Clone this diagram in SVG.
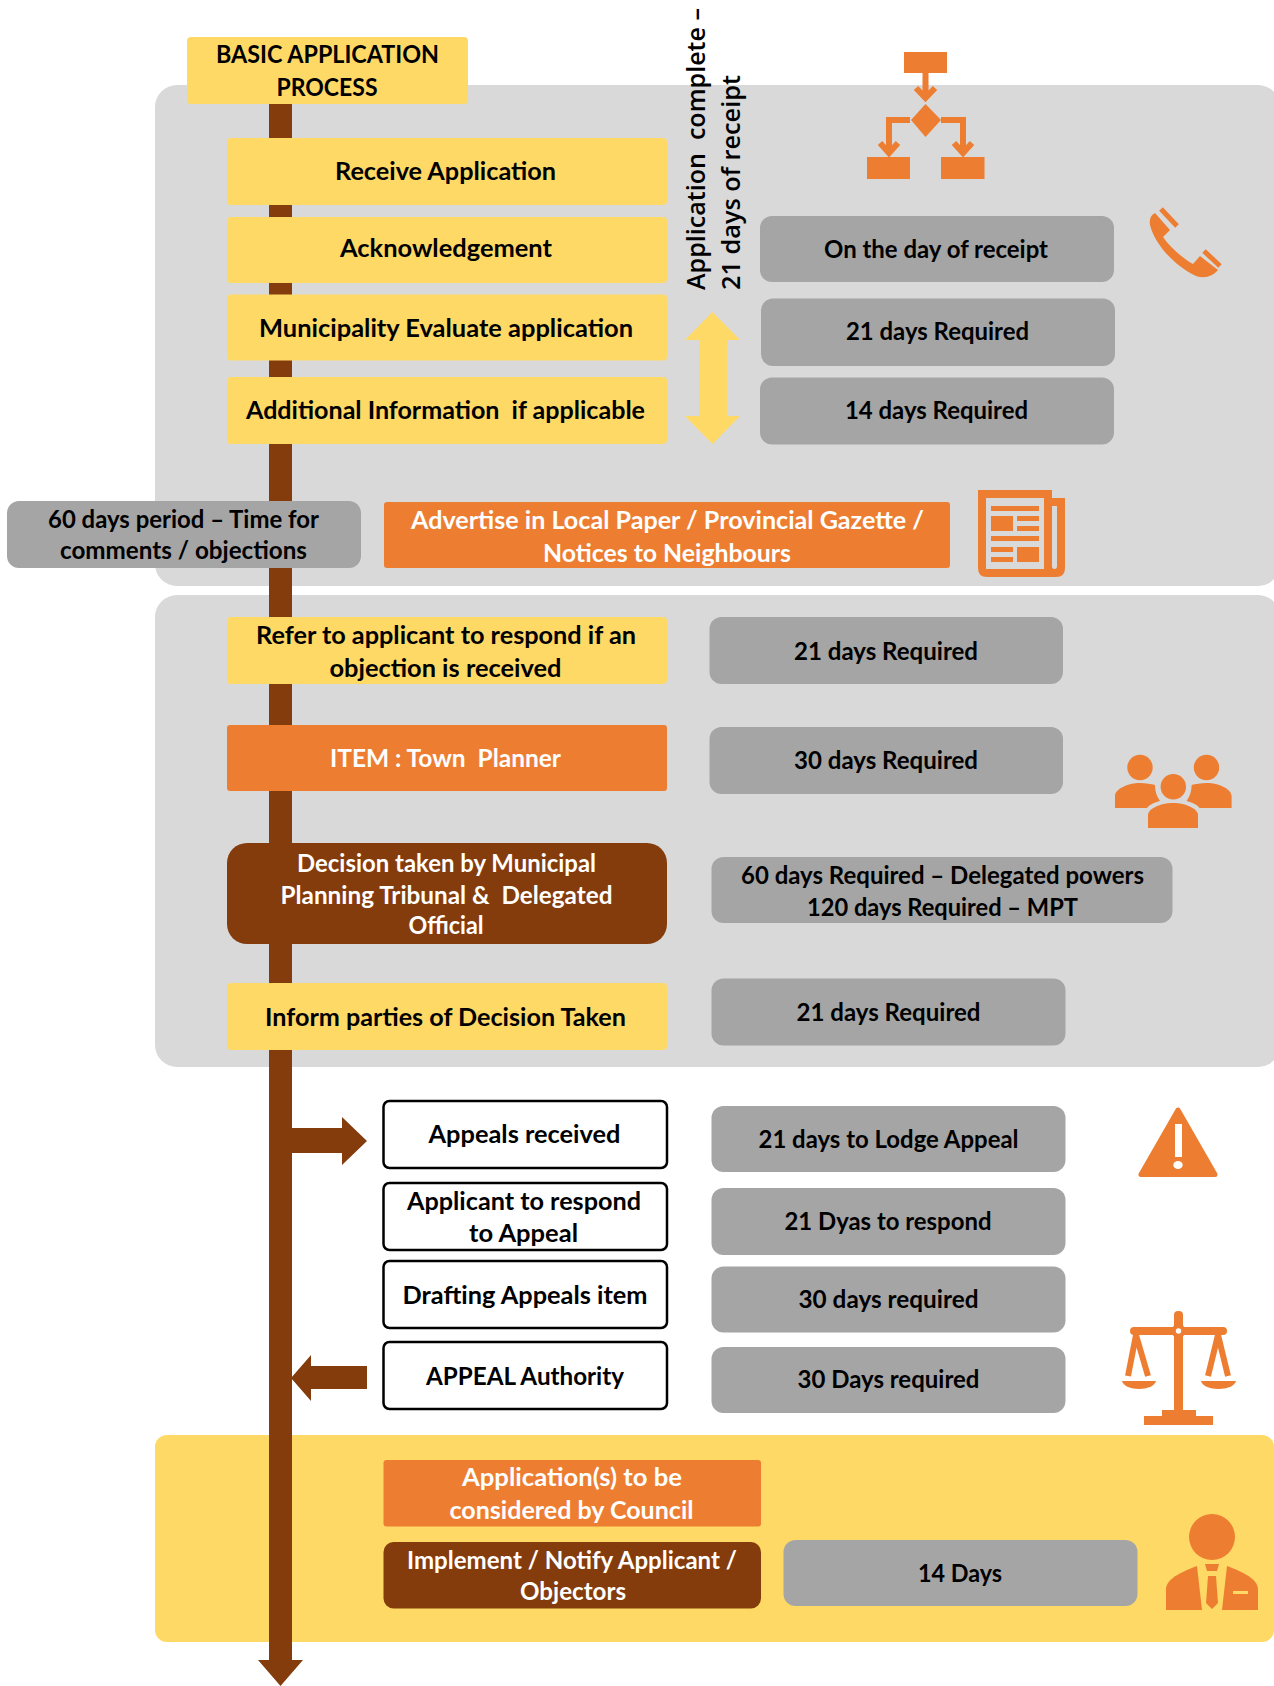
<svg xmlns="http://www.w3.org/2000/svg" width="1274" height="1686" viewBox="0 0 1274 1686">
<style>
.t{font-family:Lato,"Liberation Sans",sans-serif;font-weight:700;font-size:25px;text-anchor:middle;fill:#000;white-space:pre}
.w{fill:#fff}
.r{font-family:"Open Sans","Liberation Sans",sans-serif;font-weight:600;font-size:26px;fill:#000;white-space:pre}
.y{fill:#FFD966}.o{fill:#ED7D31}.b{fill:#843C0C}.g{fill:#A5A5A5}.p{fill:#D9D9D9}
.n{fill:#fff;stroke:#000;stroke-width:2.5}
.i{fill:#ED7D31}
.l{fill:none;stroke:#ED7D31}
</style>
<g id="panels">
<rect class="p" x="155" y="85" width="1125" height="501" rx="22"/>
<rect class="p" x="155" y="595" width="1125" height="472" rx="22"/>
<rect class="y" x="155" y="1435" width="1119" height="207" rx="12"/>
</g>
<g id="connectors">
<path class="b" d="M269,103H292V1660H303L280.500,1686L258,1660H269Z"/>
<path class="b" d="M292,1128H342V1117L367,1141L342,1165V1153H292Z"/>
<path class="b" d="M367,1366V1389H311V1401L291,1378L311,1355V1366Z"/>
<path class="y" d="M712.500,312L740,340H727V416H740L712.500,444L685,416H699V340H685Z"/>
</g>
<g id="n-title"><rect class="y" x="187" y="37" width="281" height="67" rx="4"/><text class="t" x="327.500" y="63" textLength="223" lengthAdjust="spacingAndGlyphs">BASIC APPLICATION</text><text class="t" x="327" y="96" textLength="101" lengthAdjust="spacingAndGlyphs">PROCESS</text></g>
<g id="n-receive"><rect class="y" x="227" y="138" width="440" height="67" rx="4"/><text class="t" x="445.500" y="180" textLength="221" lengthAdjust="spacingAndGlyphs">Receive Application</text></g>
<g id="n-ack"><rect class="y" x="227" y="217" width="440" height="66" rx="4"/><text class="t" x="446" y="257" textLength="212" lengthAdjust="spacingAndGlyphs">Acknowledgement</text></g>
<g id="n-eval"><rect class="y" x="227" y="294.500" width="440" height="66" rx="4"/><text class="t" x="446" y="336.500" textLength="374" lengthAdjust="spacingAndGlyphs">Municipality Evaluate application</text></g>
<g id="n-info"><rect class="y" x="227" y="377" width="440" height="67" rx="4"/><text class="t" x="445.500" y="419" textLength="399" lengthAdjust="spacingAndGlyphs">Additional Information  if applicable</text></g>
<g id="n-complete"><text class="r" transform="translate(705,290) rotate(-90)" textLength="282" lengthAdjust="spacingAndGlyphs">Application  complete –</text><text class="r" transform="translate(740,290) rotate(-90)" textLength="215" lengthAdjust="spacingAndGlyphs">21 days of receipt</text></g>
<g id="n-d1"><rect class="g" x="760" y="216" width="354" height="66" rx="12"/><text class="t" x="936" y="258" textLength="224" lengthAdjust="spacingAndGlyphs">On the day of receipt</text></g>
<g id="n-d2"><rect class="g" x="761" y="298.500" width="354" height="67.500" rx="12"/><text class="t" x="937.500" y="340" textLength="183" lengthAdjust="spacingAndGlyphs">21 days Required</text></g>
<g id="n-d3"><rect class="g" x="760" y="377.500" width="354" height="67" rx="12"/><text class="t" x="936.500" y="419" textLength="183" lengthAdjust="spacingAndGlyphs">14 days Required</text></g>
<g id="n-period"><rect class="g" x="7" y="501" width="354" height="67" rx="12"/><text class="t" x="183.500" y="527.500" textLength="271" lengthAdjust="spacingAndGlyphs">60 days period – Time for</text><text class="t" x="183.500" y="559" textLength="247" lengthAdjust="spacingAndGlyphs">comments / objections</text></g>
<g id="n-advert"><rect class="o" x="384" y="502" width="566" height="66" rx="3"/><text class="t w" x="667.500" y="528.500" textLength="513" lengthAdjust="spacingAndGlyphs">Advertise in Local Paper / Provincial Gazette /</text><text class="t w" x="667" y="561.500" textLength="248" lengthAdjust="spacingAndGlyphs">Notices to Neighbours</text></g>
<g id="n-refer"><rect class="y" x="227" y="617" width="440" height="67" rx="4"/><text class="t" x="446" y="644" textLength="380" lengthAdjust="spacingAndGlyphs">Refer to applicant to respond if an</text><text class="t" x="445.500" y="677" textLength="232" lengthAdjust="spacingAndGlyphs">objection is received</text></g>
<g id="n-d4"><rect class="g" x="709.500" y="617" width="353.500" height="67" rx="12"/><text class="t" x="886" y="660" textLength="184" lengthAdjust="spacingAndGlyphs">21 days Required</text></g>
<g id="n-item"><rect class="o" x="227" y="725" width="440" height="66" rx="3"/><text class="t w" x="445.500" y="767" textLength="231" lengthAdjust="spacingAndGlyphs">ITEM : Town  Planner</text></g>
<g id="n-d5"><rect class="g" x="709.500" y="727" width="353.500" height="67" rx="12"/><text class="t" x="886" y="769" textLength="184" lengthAdjust="spacingAndGlyphs">30 days Required</text></g>
<g id="n-decision"><rect class="b" x="227" y="843" width="440" height="101" rx="20"/><text class="t w" x="446.500" y="872" textLength="299" lengthAdjust="spacingAndGlyphs">Decision taken by Municipal</text><text class="t w" x="446.500" y="904" textLength="332" lengthAdjust="spacingAndGlyphs">Planning Tribunal &amp;  Delegated</text><text class="t w" x="446" y="934" textLength="75" lengthAdjust="spacingAndGlyphs">Official</text></g>
<g id="n-d6"><rect class="g" x="711.500" y="857" width="461" height="66" rx="12"/><text class="t" x="942.500" y="884" textLength="403" lengthAdjust="spacingAndGlyphs">60 days Required – Delegated powers</text><text class="t" x="942.500" y="916" textLength="271" lengthAdjust="spacingAndGlyphs">120 days Required – MPT</text></g>
<g id="n-inform"><rect class="y" x="227" y="983" width="440" height="67" rx="4"/><text class="t" x="445.500" y="1025.500" textLength="361" lengthAdjust="spacingAndGlyphs">Inform parties of Decision Taken</text></g>
<g id="n-d7"><rect class="g" x="711.500" y="978.500" width="354" height="67" rx="12"/><text class="t" x="888.500" y="1020.500" textLength="184" lengthAdjust="spacingAndGlyphs">21 days Required</text></g>
<g id="n-appeals"><rect class="n" x="383.500" y="1101" width="283.500" height="67" rx="6"/><text class="t" x="524.500" y="1142.500" textLength="192" lengthAdjust="spacingAndGlyphs">Appeals received</text></g>
<g id="n-respond"><rect class="n" x="383.500" y="1183" width="283.500" height="67" rx="6"/><text class="t" x="524" y="1209.500" textLength="234" lengthAdjust="spacingAndGlyphs">Applicant to respond</text><text class="t" x="523.500" y="1242" textLength="109" lengthAdjust="spacingAndGlyphs">to Appeal</text></g>
<g id="n-draft"><rect class="n" x="383.500" y="1261" width="283.500" height="67" rx="6"/><text class="t" x="525" y="1303.500" textLength="245" lengthAdjust="spacingAndGlyphs">Drafting Appeals item</text></g>
<g id="n-authority"><rect class="n" x="383.500" y="1342" width="283.500" height="67" rx="6"/><text class="t" x="525" y="1384.500" textLength="198" lengthAdjust="spacingAndGlyphs">APPEAL Authority</text></g>
<g id="n-d8"><rect class="g" x="711.500" y="1106" width="354" height="66" rx="12"/><text class="t" x="888.500" y="1147.500" textLength="260" lengthAdjust="spacingAndGlyphs">21 days to Lodge Appeal</text></g>
<g id="n-d9"><rect class="g" x="711.500" y="1188" width="354" height="67" rx="12"/><text class="t" x="888" y="1230" textLength="207" lengthAdjust="spacingAndGlyphs">21 Dyas to respond</text></g>
<g id="n-d10"><rect class="g" x="711.500" y="1266.500" width="354" height="66" rx="12"/><text class="t" x="888.500" y="1308" textLength="180" lengthAdjust="spacingAndGlyphs">30 days required</text></g>
<g id="n-d11"><rect class="g" x="711.500" y="1347" width="354" height="66" rx="12"/><text class="t" x="888.500" y="1388" textLength="182" lengthAdjust="spacingAndGlyphs">30 Days required</text></g>
<g id="n-council"><rect class="o" x="383.500" y="1460" width="377.500" height="66.500" rx="3"/><text class="t w" x="572" y="1486" textLength="220" lengthAdjust="spacingAndGlyphs">Application(s) to be</text><text class="t w" x="571.500" y="1519" textLength="244" lengthAdjust="spacingAndGlyphs">considered by Council</text></g>
<g id="n-implement"><rect class="b" x="383.500" y="1542" width="377.500" height="66.500" rx="10"/><text class="t w" x="572" y="1568.500" textLength="330" lengthAdjust="spacingAndGlyphs">Implement / Notify Applicant /</text><text class="t w" x="573" y="1600" textLength="106" lengthAdjust="spacingAndGlyphs">Objectors</text></g>
<g id="n-d12"><rect class="g" x="783.500" y="1540" width="354" height="66" rx="12"/><text class="t" x="960" y="1581.500" textLength="84" lengthAdjust="spacingAndGlyphs">14 Days</text></g>
<g id="icon-flow">
<rect class="i" x="904" y="52" width="43" height="21"/><rect class="i" x="867" y="157" width="43" height="22"/><rect class="i" x="941" y="157" width="43.500" height="22"/>
<path class="i" d="M925.500,104L941,120L925.500,137L911,120Z"/>
<path class="l" stroke-width="6" d="M925.500,73V98M916,88L925.500,98L935,88M910,120H889V152M880,143L889,153L898,143M941,120H963V152M954,143L963,153L972,143"/>
</g>
<g id="icon-phone">
<path class="i" d="M1155,213L1170,230L1163,237C1170,247 1182,258 1193,264L1200,256L1218,270C1213,276 1205,279 1196,276C1175,266 1155,245 1150,225C1149,219 1151,215 1155,213Z"/>
<path class="l" stroke-width="5" d="M1161,209L1177,226M1204,251L1220,266"/>
</g>
<g id="icon-news">
<path class="i" fill-rule="evenodd" d="M978,490H1052V498H1065V568Q1065,577 1056,577H987Q978,577 978,568ZM986,498V569H1044V498ZM1052,506V566Q1052,569 1054.500,569Q1057,569 1057,566V506Z"/>
<path class="i" d="M991,506H1039V511H991ZM991,516H1013V531H991ZM1017,516H1039V521H1017ZM1017,526H1039V531H1017ZM991,536H1039V541H991ZM991,547H1013V552H991ZM991,557H1013V562H991ZM1017,547H1039V562H1017Z"/>
</g>
<g id="icon-people">
<circle class="i" cx="1140" cy="767.500" r="12.700"/><circle class="i" cx="1206.500" cy="767.500" r="12.700"/><circle class="i" cx="1173.300" cy="786.700" r="12.700"/>
<path class="i" d="M1148,828V815C1148,809 1160,803 1173,803C1186,803 1198,809 1198,815V828Z"/>
<path class="i" d="M1115,808V796C1115,789 1128,783 1140,783C1146,783 1151,784 1155,785C1155,793 1158,798 1160,801C1153,803 1149,805 1147,808Z"/>
<path class="i" d="M1231.600,808V796C1231.600,789 1218.600,783 1206.600,783C1200.600,783 1195.600,784 1191.600,785C1191.600,793 1188.600,798 1186.600,801C1193.600,803 1197.600,805 1199.600,808Z"/>
</g>
<g id="icon-warning">
<path class="i" stroke="#ED7D31" stroke-width="5" stroke-linejoin="round" d="M1178,1110L1141,1174.500H1215Z"/>
<rect class="w" x="1175" y="1124" width="7" height="33"/><ellipse class="w" cx="1178" cy="1165" rx="4.700" ry="4"/>
</g>
<g id="icon-scale">
<rect class="i" x="1174" y="1311" width="9" height="102" rx="4"/><rect class="i" x="1130" y="1327" width="97" height="8" rx="4"/>
<circle class="i" cx="1178.500" cy="1331" r="7"/><circle class="w" cx="1178.500" cy="1331" r="2.700"/>
<path class="i" d="M1144,1425V1416H1162V1410H1196V1416H1213V1425Z"/>
<path class="l" stroke-width="6" d="M1128,1376L1136,1335L1148,1376M1208,1376L1218,1335L1228,1376"/>
<path class="i" d="M1122,1381H1156C1155,1386 1147,1389 1139,1389C1131,1389 1123,1386 1122,1381Z"/>
<path class="i" d="M1201,1381H1236C1235,1386 1227,1389 1218.500,1389C1210,1389 1202,1386 1201,1381Z"/>
</g>
<g id="icon-person">
<circle class="i" cx="1212" cy="1537" r="23"/>
<path class="i" d="M1166,1610V1589C1166,1578 1186,1570 1197,1566L1202,1610Z"/>
<path class="i" fill-rule="evenodd" d="M1258,1610V1589C1258,1578 1238,1570 1227,1566L1222,1610ZM1233,1591V1594H1248V1591Z"/>
<path class="i" d="M1205,1564H1219L1217,1571H1207ZM1208,1576H1216L1218,1603L1212,1609L1206,1603Z"/>
</g>
</svg>
